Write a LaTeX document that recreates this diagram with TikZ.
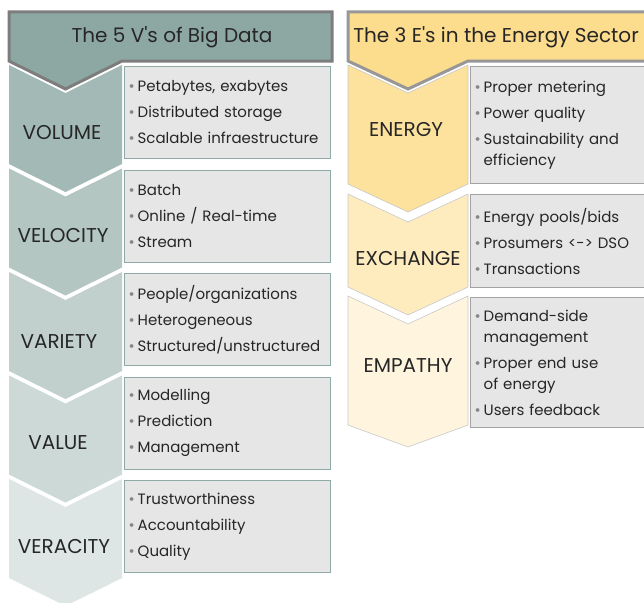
\documentclass[tikz,border=0pt]{standalone}
\usepackage{fontspec}
\setmainfont{Poppins}
\definecolor{vtitle}{HTML}{8DA8A3}
\definecolor{vvol}{HTML}{A2B9B5}
\definecolor{vvel}{HTML}{B3C6C2}
\definecolor{vvar}{HTML}{C1D0CD}
\definecolor{vval}{HTML}{CDD9D7}
\definecolor{vver}{HTML}{DDE6E4}
\definecolor{etitle}{HTML}{FCDC8D}
\definecolor{eene}{HTML}{FDE29E}
\definecolor{eexc}{HTML}{FEECBF}
\definecolor{eemp}{HTML}{FFF5DF}
\definecolor{titleline}{HTML}{7D7D7D}
\definecolor{vline}{HTML}{8FAAA6}
\definecolor{eline}{HTML}{A3A3A3}
\definecolor{boxfill}{HTML}{E6E6E6}
\definecolor{txt}{HTML}{262626}
\definecolor{bulletgray}{HTML}{858585}
\newcommand{\bul}{{\color{bulletgray}\textbullet}\hspace{3pt}}
\newcommand{\ind}{\hphantom{\bul}}
\begin{document}
\begin{tikzpicture}[x=1pt, y=-1pt,
    ttext/.style={text=txt, font=\fontsize{20}{23}\selectfont},
    lbl/.style={text=txt, font=\fontsize{20}{23}\selectfont},
    vbox/.style={draw=vline, fill=boxfill, line width=1pt, anchor=north west,
      minimum width=206pt, text width=198pt, inner xsep=4pt, align=left,
      text=txt, font=\fontsize{15}{21}\selectfont},
    ebox/.style={vbox, draw=eline, minimum width=190pt, text width=182pt}]
    \useasboundingbox (0,0) rectangle (644,602);
    \clip (0,0) rectangle (644,602);

    % big data column
    \draw[line width=3pt, draw=titleline, fill=vtitle] (9,12) -- (332,12) -- (332,61) -- (122,61) -- (65.5,89) -- (9,61) -- cycle;
    \fill[vvol] (9,65) -- (65.5,93) -- (122,65) -- (122,164) -- (65.5,192) -- (9,164) -- cycle;
    \fill[vvel] (9,168.5) -- (65.5,196.5) -- (122,168.5) -- (122,267.5) -- (65.5,295.5) -- (9,267.5) -- cycle;
    \fill[vvar] (9,272) -- (65.5,300) -- (122,272) -- (122,371) -- (65.5,399) -- (9,371) -- cycle;
    \fill[vval] (9,375.5) -- (65.5,403.5) -- (122,375.5) -- (122,474.5) -- (65.5,502.5) -- (9,474.5) -- cycle;
    \fill[vver] (9,479) -- (65.5,507) -- (122,479) -- (122,578) -- (65.5,606) -- (9,578) -- cycle;
    \node[ttext] (vhead) at (172,37) {The 5 V\textquotesingle s of Big Data};
    \node[lbl] (volume) at (62,133) {VOLUME};
    \node[lbl] (velocity) at (63,236) {VELOCITY};
    \node[lbl] (variety) at (59,342) {VARIETY};
    \node[lbl] (value) at (58,443) {VALUE};
    \node[lbl] (veracity) at (64,546) {VERACITY};
    \node[vbox, minimum height=92pt] (volumebox) at (124,66)
      {\bul Petabytes, exabytes\\[5pt] \bul Distributed storage\\[5pt] \bul Scalable infraestructure};
    \node[vbox, minimum height=92pt] (velocitybox) at (124,169.5)
      {\bul Batch\\[5pt] \bul Online / Real-time\\[5pt] \bul Stream};
    \node[vbox, minimum height=92pt] (varietybox) at (124,273)
      {\bul People/organizations\\[5pt] \bul Heterogeneous\\[5pt] \bul Structured/unstructured};
    \node[vbox, minimum height=92pt] (valuebox) at (124,376.5)
      {\bul Modelling\\[5pt] \bul Prediction\\[5pt] \bul Management};
    \node[vbox, minimum height=92pt] (veracitybox) at (124,480)
      {\bul Trustworthiness\\[5pt] \bul Accountability\\[5pt] \bul Quality};

    % energy column
    \draw[line width=3pt, draw=titleline!80, fill=etitle] (348,12) -- (660,12) -- (660,61) -- (468,61) -- (408,89) -- (348,61) -- cycle;
    \filldraw[fill=eene, draw=eline!60, line width=.6pt] (348,65) -- (408,93) -- (468,65) -- (468,184) -- (408,212) -- (348,184) -- cycle;
    \filldraw[fill=eexc, draw=eline!60, line width=.6pt] (348,194) -- (408,222) -- (468,194) -- (468,287) -- (408,315) -- (348,287) -- cycle;
    \filldraw[fill=eemp, draw=eline!60, line width=.6pt] (348,296) -- (408,324) -- (468,296) -- (468,425) -- (408,447) -- (348,425) -- cycle;
    \node[ttext] (ehead) at (496,37) {The 3 E\textquotesingle s in the Energy Sector};
    \node[lbl] (energy) at (406,130) {ENERGY};
    \node[lbl] (exchange) at (408,258) {EXCHANGE};
    \node[lbl] (empathy) at (408,366) {EMPATHY};
    \node[ebox, minimum height=117pt] (energybox) at (470,66)
      {\bul Proper metering\\[5pt] \bul Power quality\\[5pt] \bul Sustainability and\\ \ind efficiency};
    \node[ebox, minimum height=93pt] (exchangebox) at (470,194)
      {\bul Energy pools/bids\\[5pt] \bul Prosumers <-> DSO\\[5pt] \bul Transactions};
    \node[ebox, minimum height=130pt] (empathybox) at (470,297)
      {\bul Demand-side\\ \ind management\\[5pt] \bul Proper end use\\ \ind of energy\\[5pt] \bul Users feedback};
\end{tikzpicture}
\end{document}
